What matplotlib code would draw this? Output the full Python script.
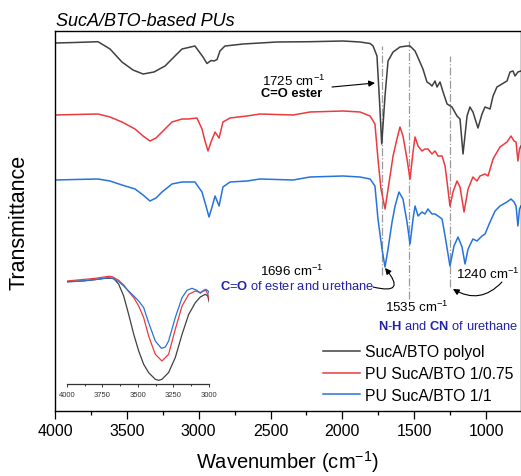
import matplotlib
matplotlib.use("Agg")
import matplotlib.pyplot as plt

plt.rcParams['font.family'] = ['Liberation Sans', 'DejaVu Sans']
plt.rcParams['mathtext.fontset'] = 'custom'
plt.rcParams['mathtext.rm'] = 'Liberation Sans'
plt.rcParams['mathtext.it'] = 'Liberation Sans:italic'
plt.rcParams['mathtext.bf'] = 'Liberation Sans:bold'

# ---------------- data (wavenumber cm-1, relative transmittance) ----------------
wn_black = [4000, 3861, 3701, 3617, 3534, 3457, 3387, 3311, 3234, 3165, 3116, 3026, 2970, 2942,
            2914, 2893, 2872, 2852, 2817, 2691, 2455, 2225, 1995, 1877, 1807, 1786, 1759, 1742,
            1726, 1703, 1682, 1647, 1599, 1550, 1529, 1494, 1460, 1439, 1411, 1390, 1376, 1355,
            1341, 1320, 1299, 1271, 1237, 1202, 1181, 1160, 1132, 1112, 1091, 1056, 1028, 1007,
            972, 951, 924, 889, 854, 833, 812, 798, 778, 757]
t_black = [368.3, 368.8, 369.6, 362.3, 349.3, 341.3, 337.3, 339.3, 345.3, 355.3, 362.3, 365.3, 354.3, 347.8,
           350.8, 350.3, 351.8, 360.3, 365.3, 367.3, 369.3, 369.6, 370.3, 369.3, 367.8, 365.3, 355.3, 312.3,
           267.3, 315.3, 350.3, 359.3, 364.3, 365.3, 365.3, 360.3, 349.3, 342.3, 329.3, 327.3, 325.3, 330.3,
           324.3, 329.3, 319.3, 307.3, 304.3, 295.3, 292.3, 257.3, 295.3, 304.3, 299.3, 283.3, 297.3, 304.3,
           302.3, 315.3, 324.3, 327.3, 330.3, 339.3, 340.3, 335.3, 339.3, 340.3]

wn_red = [4000, 3861, 3701, 3617, 3534, 3443, 3387, 3339, 3297, 3255, 3186, 3116, 3074, 3012, 2977,
          2956, 2935, 2914, 2886, 2858, 2831, 2782, 2664, 2573, 2343, 2225, 1995, 1877, 1807, 1773,
          1752, 1731, 1703, 1668, 1647, 1620, 1599, 1578, 1550, 1529, 1508, 1494, 1473, 1446, 1425,
          1404, 1376, 1355, 1334, 1306, 1285, 1271, 1251, 1230, 1202, 1181, 1153, 1125, 1091, 1063,
          1042, 1007, 986, 951, 903, 854, 826, 805, 791, 778, 767, 757]
t_red = [296.3, 296.8, 297.3, 294.3, 289.3, 282.3, 275.3, 270.3, 273.3, 279.3, 289.3, 292.3, 292.3, 293.3, 282.3,
         270.3, 260.3, 269.3, 279.3, 273.3, 289.3, 293.3, 295.3, 297.3, 296.3, 299.3, 300.3, 299.3, 295.3, 287.3,
         252.3, 222.3, 202.3, 235.3, 255.3, 272.3, 284.3, 275.3, 252.3, 232.3, 259.3, 274.3, 265.3, 260.3, 262.3,
         262.3, 257.3, 260.3, 255.3, 255.3, 245.3, 229.3, 205.3, 219.3, 230.3, 224.3, 199.3, 222.3, 234.3, 230.3,
         235.3, 237.3, 235.3, 252.3, 264.3, 269.3, 275.3, 270.3, 269.3, 250.3, 262.3, 265.3]

wn_blue = [4000, 3861, 3701, 3617, 3534, 3443, 3387, 3339, 3297, 3255, 3186, 3116, 3026, 2977,
           2949, 2928, 2907, 2886, 2858, 2831, 2782, 2664, 2573, 2343, 2225, 1995, 1877, 1807, 1773,
           1752, 1724, 1703, 1682, 1654, 1633, 1606, 1578, 1550, 1529, 1508, 1494, 1473, 1446, 1425,
           1404, 1376, 1355, 1334, 1306, 1285, 1251, 1223, 1195, 1167, 1146, 1125, 1091, 1063, 1028,
           1007, 972, 937, 903, 854, 826, 805, 791, 778, 767, 757]
t_blue = [231.3, 231.8, 232.3, 230.3, 226.3, 222.3, 216.3, 210.3, 213.3, 219.3, 227.3, 229.3, 229.3, 219.3,
          205.3, 194.3, 204.3, 215.3, 205.3, 224.3, 229.3, 230.3, 232.3, 231.3, 234.3, 235.3, 234.3, 232.3, 225.3,
          192.3, 162.3, 144.3, 162.3, 189.3, 205.3, 219.3, 212.3, 189.3, 167.3, 192.3, 205.3, 195.3, 199.3, 197.3,
          202.3, 197.3, 197.3, 195.3, 192.3, 175.3, 145.3, 165.3, 174.3, 164.3, 147.3, 162.3, 172.3, 170.3, 175.3,
          177.3, 189.3, 200.3, 205.3, 209.3, 212.3, 209.3, 205.3, 185.3, 202.3, 205.3]

# inset (OH / NH stretching region)
wn_in_black = [4000, 3894, 3800, 3729, 3671, 3635, 3600, 3565, 3529, 3494, 3459, 3424, 3377, 3353,
               3330, 3283, 3236, 3188, 3141, 3094, 3059, 3024, 3007, 2995]
t_in_black = [102.7, 103.3, 104.7, 106, 106, 100, 88.3, 70, 50, 33.3, 20, 11.7, 5, 4,
              5, 11.7, 26.7, 50, 70, 81.7, 87.3, 90, 88.3, 81.7]
wn_in_red = [4000, 3894, 3800, 3706, 3682, 3635, 3600, 3565, 3529, 3494, 3459, 3424, 3377, 3330,
             3283, 3236, 3188, 3141, 3094, 3059, 3036, 3019, 3007, 2995]
t_in_red = [103.3, 104.7, 106, 108, 107.7, 104, 99.3, 92.7, 86.7, 78.3, 66.7, 48.3, 30, 23.3,
            30, 55, 78.3, 90, 93.3, 91.7, 93.3, 94, 90, 85]
wn_in_blue = [4000, 3894, 3800, 3706, 3682, 3635, 3600, 3565, 3529, 3494, 3459, 3424, 3377, 3334, 3306,
              3283, 3236, 3188, 3153, 3118, 3083, 3059, 3036, 3019, 3000, 2993]
t_in_blue = [102.3, 103.3, 104.7, 106.7, 106, 102.7, 98.3, 93.3, 88.3, 83.3, 76.7, 61.7, 43.3, 36, 37.3,
             43.3, 66.7, 86.7, 94, 96, 94, 91, 94, 95, 92.7, 88.3]

labels = ['SucA/BTO polyol', 'PU SucA/BTO 1/0.75', 'PU SucA/BTO 1/1']
colors = ['#404040', '#ec3a3f', '#2673dc']
band_wn = [1725, 1535, 1250]
band_top = [365, 370, 355]
band_bot = [136, 112, 124]
xticks = [4000, 3500, 3000, 2500, 2000, 1500, 1000]
inset_ticks = [4000, 3750, 3500, 3250, 3000]

# ---------------- figure ----------------
W, H = 521, 477
fig = plt.figure(figsize=(W / 100, H / 100), dpi=100)
ax = fig.add_axes([55 / W, (H - 412.3) / H, (520.5 - 55) / W, (412.3 - 31.7) / H])

for wn, t, c, lab in zip([wn_black, wn_red, wn_blue], [t_black, t_red, t_blue], colors, labels):
    ax.plot(wn, t, color=c, lw=1.1, label=lab)

for b, top, bot in zip(band_wn, band_top, band_bot):
    ax.plot([b, b], [bot, top], color='#9a9a9a', lw=0.9, ls='-.', zorder=0.5)

ax.set_xlim(4000, 760)
ax.set_ylim(0, 380.6)
ax.set_xticks(xticks)
ax.set_xticks([3750, 3250, 2750, 2250, 1750, 1250], minor=True)
ax.set_yticks([])
ax.tick_params(axis='x', which='major', direction='out', length=5.5, width=0.9, labelsize=11.5, pad=3)
ax.tick_params(axis='x', which='minor', direction='out', length=3, width=0.9)
for s in ax.spines.values():
    s.set_linewidth(1.0)
ax.set_xlabel('Wavenumber (cm$^{-1}$)', fontsize=14.5, labelpad=7)
ax.set_ylabel('Transmittance', fontsize=15.5, labelpad=18)

fig.text(56 / W, (H - 26) / H, 'SucA/BTO-based PUs', fontsize=13, style='italic', ha='left', va='baseline')

# annotations
navy = '#2323a8'
fs = 9.6
ax.text(2335, 331, '1725 cm$^{-1}$', fontsize=fs, ha='center', va='center')
ax.text(2350, 318, 'C=O ester', fontsize=fs - 0.3, fontweight='bold', ha='center', va='center')
ax.annotate('', xy=(1773, 328.3), xytext=(2072, 324.3),
            arrowprops=dict(arrowstyle='-|>', color='black', lw=0.8, shrinkA=0, shrinkB=0, mutation_scale=9))

ax.text(2350, 141, '1696 cm$^{-1}$', fontsize=fs, ha='center', va='center')
ax.text(2316, 126, r'$\mathbf{C}$=$\mathbf{O}$ of ester and urethane', fontsize=fs - 0.3, color=navy,
        ha='center', va='center')
ax.annotate('', xy=(1703, 143.3), xytext=(1786, 124.3),
            arrowprops=dict(arrowstyle='-|>', color='black', lw=0.8, shrinkA=0, shrinkB=0,
                            mutation_scale=9, connectionstyle='arc3,rad=1.5'))

ax.text(989, 138.3, '1240 cm$^{-1}$', fontsize=fs, ha='center', va='center')
ax.annotate('', xy=(1230, 122.3), xytext=(889, 129.3),
            arrowprops=dict(arrowstyle='-|>', color='black', lw=0.8, shrinkA=0, shrinkB=0,
                            mutation_scale=9, connectionstyle='arc3,rad=-0.4'))

ax.text(1483, 104.8, '1535 cm$^{-1}$', fontsize=fs, ha='center', va='center')
ax.text(1265, 86.3, r'$\mathbf{N}$-$\mathbf{H}$ and $\mathbf{CN}$ of urethane', fontsize=fs - 0.3, color=navy,
        ha='center', va='center')

leg = ax.legend(loc='upper left', bbox_to_anchor=((323 - 55) / 465.5, (412.3 - 345.5) / 380.6),
                frameon=False, fontsize=11.3, handlelength=2.35, handletextpad=0.3,
                labelspacing=0.42, borderpad=0, borderaxespad=0)

# inset
axi = fig.add_axes([67 / W, (H - 385.3) / H, 141.7 / W, 110 / H])
axi.patch.set_alpha(0)
for wn, t, c in zip([wn_in_black, wn_in_red, wn_in_blue], [t_in_black, t_in_red, t_in_blue], colors):
    axi.plot(wn, t, color=c, lw=0.9)
axi.set_xlim(4000, 3000)
axi.set_ylim(0, 110)
for k in ['left', 'right', 'top']:
    axi.spines[k].set_visible(False)
axi.spines['bottom'].set_linewidth(0.9)
axi.spines['bottom'].set_color('#333333')
axi.set_yticks([])
axi.set_xticks(inset_ticks)
axi.set_xticks([3875, 3625, 3375, 3125], minor=True)
axi.tick_params(axis='x', which='major', direction='out', length=2.5, width=0.7, labelsize=5.5,
                pad=2, colors='#333333')
axi.tick_params(axis='x', which='minor', direction='out', length=1.5, width=0.7, colors='#333333')

fig.savefig('out.png', dpi=100)
